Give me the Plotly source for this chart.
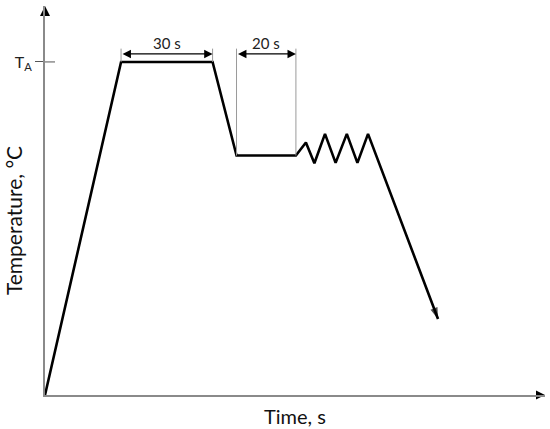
import plotly.graph_objects as go

# --- data (time in s, temperature relative to T_A = 100) ---
time_s = [0, 25.1, 55.3, 63.2, 82.8, 86.1, 88.9, 92.4, 95.9, 99.6, 103.1, 106.6, 129.7]
temp = [0, 100, 100, 71.9, 71.9, 75.8, 69.6, 78.4, 69.7, 78.4, 69.7, 78.4, 22.8]

T_A = 100
anneal_span = [25.1, 55.3]      # 30 s hold at T_A
hold_span = [63.2, 82.8]        # 20 s hold
dim_labels = ["30 s", "20 s"]
dim_level = 102.4
dim_top = 104.0
hold_level = 71.9

x_max = 165.0
y_max = 116.8

FONT = "Lato"
AX_COL = "#8a8a8a"

fig = go.Figure()

# main thermal cycle curve with arrow head at the end
sizes = [0] * (len(time_s) - 1) + [12]
fig.add_trace(go.Scatter(
    x=time_s, y=temp, mode="lines+markers",
    line=dict(color="black", width=2.6),
    marker=dict(symbol="arrow", angleref="previous", size=sizes, color="black",
                line=dict(width=0)),
    hoverinfo="skip", showlegend=False,
))

# axis arrow heads
fig.add_trace(go.Scatter(
    x=[x_max], y=[0], mode="markers", cliponaxis=False,
    marker=dict(symbol="arrow-right", size=9, color="black", line=dict(width=0)),
    hoverinfo="skip", showlegend=False,
))
fig.add_trace(go.Scatter(
    x=[0], y=[y_max], mode="markers", cliponaxis=False,
    marker=dict(symbol="arrow-up", size=10, color="black", line=dict(width=0)),
    hoverinfo="skip", showlegend=False,
))

# inner part of the T_A tick
fig.add_shape(type="line", xref="x", yref="y", x0=0, x1=3.3, y0=T_A, y1=T_A,
              line=dict(color="#555555", width=1))

# extension lines for dimensions
for x0, ybot in [(anneal_span[0], T_A), (anneal_span[1], T_A),
                 (hold_span[0], hold_level), (hold_span[1], hold_level)]:
    fig.add_shape(type="line", xref="x", yref="y", x0=x0, x1=x0, y0=ybot, y1=dim_top,
                  line=dict(color="#9a9a9a", width=1))

# dimension arrows and labels
for span, lab in zip([anneal_span, hold_span], dim_labels):
    fig.add_annotation(x=span[1], y=dim_level, ax=span[0], ay=dim_level,
                       xref="x", yref="y", axref="x", ayref="y", text="",
                       showarrow=True, arrowside="end+start", arrowhead=2,
                       arrowsize=1.4, arrowwidth=1.2, arrowcolor="black")
    fig.add_annotation(x=(span[0] + span[1]) / 2, y=dim_level + 3.2, text=lab,
                       xref="x", yref="y", showarrow=False, yanchor="middle",
                       font=dict(family=FONT, size=15, color="#222222"))

# axis titles
fig.add_annotation(x=0.5, y=-0.054, xref="paper", yref="paper", text="Time, s",
                   showarrow=False, xanchor="center", yanchor="middle",
                   font=dict(family=FONT, size=20, color="#111111"))
fig.add_annotation(x=-0.064, y=0.447, xref="paper", yref="paper", text="Temperature, °C",
                   textangle=-90, showarrow=False, xanchor="center", yanchor="middle",
                   font=dict(family=FONT, size=21, color="#111111"))

fig.update_layout(
    width=550, height=429,
    margin=dict(l=45, r=5, t=6, b=34),
    paper_bgcolor="white", plot_bgcolor="white",
    hovermode=False,
    xaxis=dict(range=[0, x_max], showline=True, linecolor=AX_COL, linewidth=2,
               showgrid=False, zeroline=False, showticklabels=False, ticks=""),
    yaxis=dict(range=[0, y_max], showline=True, linecolor=AX_COL, linewidth=2,
               showgrid=False, zeroline=False, tickvals=[T_A], ticktext=["T<sub>A</sub>"],
               ticks="outside", ticklen=8, tickwidth=1, tickcolor="#555555",
               tickfont=dict(family=FONT, size=16, color="#222222")),
)

fig.write_html("out.html", config={"displayModeBar": False},
               post_script="document.body.style.margin='0px';")
